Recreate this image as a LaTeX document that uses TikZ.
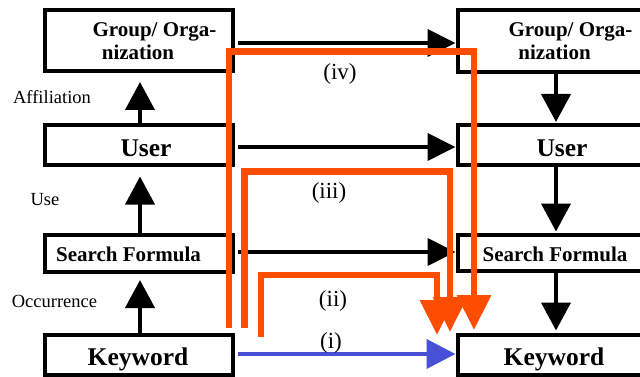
\documentclass[tikz,border=0pt]{standalone}
\usepackage{fontspec}
\setmainfont{Liberation Serif}
\usetikzlibrary{arrows.meta}
\definecolor{orng}{RGB}{255,77,0}
\definecolor{blu}{RGB}{72,80,216}
\begin{document}
\begin{tikzpicture}[x=1pt,y=-1pt,
  lbox/.style={draw, line width=4pt, minimum width=188pt, inner sep=0pt},
  rbox/.style={draw, line width=4pt, minimum width=195pt, inner sep=0pt},
  txt/.style={inner sep=0pt, anchor=base},
  big/.style={font=\fontsize{25.5}{25.5}\selectfont\bfseries},
  mid/.style={font=\fontsize{21}{21}\selectfont\bfseries},
  lab/.style={font=\fontsize{18.5}{18.5}\selectfont},
  num/.style={font=\fontsize{23}{23}\selectfont},
  harr/.style={line width=4pt, -{Triangle[length=28pt,width=27pt]}},
  varr/.style={line width=4pt, -{Triangle[length=28pt,width=29pt]}},
  oarr/.style={line width=6.5pt, color=orng, line join=miter, -{Triangle[length=35pt,width=33pt]}},
  barr/.style={line width=4pt, color=blu, -{Triangle[length=29pt,width=29pt]}}
]
\useasboundingbox (0,0) rectangle (640,377);

% boxes
\node[lbox, minimum height=60.5pt] (GL) at (138.5,40.75) {};
\node[lbox, minimum height=40pt]   (UL) at (138.5,145.5) {};
\node[lbox, minimum height=36.5pt] (SL) at (138.5,253.25) {};
\node[lbox, minimum height=40pt]   (KL) at (138.5,354.5) {};
\node[rbox, minimum height=62pt]   (GR) at (555,41.5) {};
\node[rbox, minimum height=40pt]   (UR) at (555,145.5) {};
\node[rbox, minimum height=35.5pt] (SR) at (555,252.75) {};
\node[rbox, minimum height=40pt]   (KR) at (555,354.5) {};

% box texts
\node[txt, mid] (gl1) at (154.5,37) {Group/ Orga-};
\node[txt, mid] (gl2) at (138,60) {nization};
\node[txt, mid] (gr1) at (570.5,37) {Group/ Orga-};
\node[txt, mid] (gr2) at (554.5,60) {nization};
\node[txt, big] (ult) at (146,157) {User};
\node[txt, big] (urt) at (562,157) {User};
\node[txt, mid] (slt) at (128.5,261) {Search Formula};
\node[txt, mid] (srt) at (555,261) {Search Formula};
\node[txt, big] (klt) at (138,365) {Keyword};
\node[txt, big] (krt) at (554,365) {Keyword};

% side labels
\node[txt, lab] (aff) at (52,104) {Affiliation};
\node[txt, lab] (use) at (45,205) {Use};
\node[txt, lab] (occ) at (54.5,307) {Occurrence};

% left vertical arrows
\draw[varr, shorten >=9pt] (UL.north -| 140,0) -- (GL.south -| 140,0);
\draw[varr, shorten >=9pt] (SL.north -| 140,0) -- (UL.south -| 140,0);
\draw[varr, shorten >=6.5pt] (KL.north -| 140,0) -- (SL.south -| 140,0);
% right vertical arrows
\draw[varr, shorten >=1.5pt] (GR.south -| 556,0) -- (UR.north -| 556,0);
\draw[varr, shorten >=1.5pt] (UR.south -| 556,0) -- (SR.north -| 556,0);
\draw[varr, shorten >=2pt] (SR.south -| 556,0) -- (KR.north -| 556,0);

% horizontal arrows
\draw[harr, shorten <=3.5pt] (GL.east |- 0,43) -- (GR.west |- 0,43);
\draw[harr, shorten <=3.5pt] (UL.east |- 0,147) -- (UR.west |- 0,147);
\draw[harr, shorten <=3.5pt] (SL.east |- 0,252) -- (SR.west |- 0,252);
\draw[barr, shorten <=3.5pt] (KL.east |- 0,354) -- (KR.west |- 0,354);

% orange paths
\coordinate (s4) at (229,328);
\coordinate (s3) at (244.5,328);
\coordinate (s2) at (261,337);
\draw[oarr, shorten >=2.5pt] (s4) |- (474,51.7) -- (KR.north -| 474,0);
\draw[oarr, shorten >=0.5pt] (s3) |- (450,171.7) -- (KR.north -| 450,0);
\draw[oarr, shorten >=-2.5pt] (s2) |- (437,275) -- (KR.north -| 437,0);

% path labels
\node[txt, num] (l4) at (340,80) {(iv)};
\node[txt, num] (l3) at (329,198) {(iii)};
\node[txt, num] (l2) at (333,306) {(ii)};
\node[txt, num] (l1) at (331,348) {(i)};
\end{tikzpicture}
\end{document}
